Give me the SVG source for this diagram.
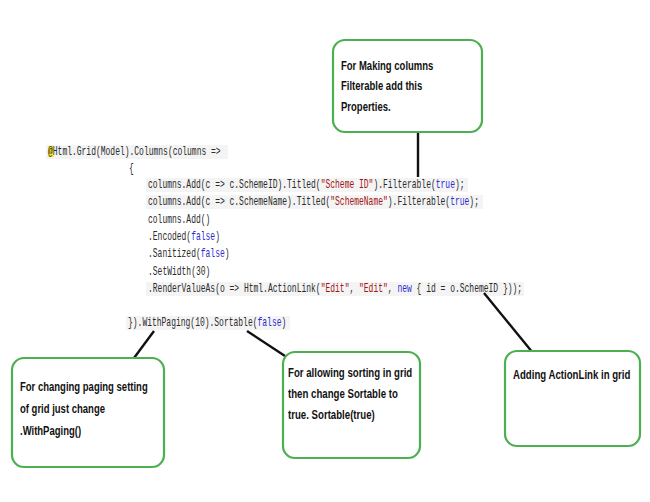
<svg xmlns="http://www.w3.org/2000/svg" width="650" height="502" viewBox="0 0 650 502">
<style>
.code{font-family:"Liberation Mono","DejaVu Sans Mono",monospace;font-size:12px;fill:#2b2b2b}
.s{fill:#a31515}
.k{fill:#2b2bd0}
.bg{fill:#f4f4f4}
.box{fill:#ffffff;stroke:#4cb050;stroke-width:2.2}
.lbl{font-family:"Liberation Sans","Arial",sans-serif;font-size:13.5px;font-weight:bold;fill:#111}
.con{stroke:#111;stroke-width:2.4;fill:none}
</style>
<rect width="650" height="502" fill="#ffffff"/>
<g id="code">
<rect class="bg" x="46" y="145" width="182" height="14"/>
<rect class="bg" x="146" y="178" width="322" height="14"/>
<rect class="bg" x="146" y="195" width="337" height="14"/>
<rect class="bg" x="146" y="282" width="378" height="14"/>
<rect class="bg" x="126" y="316" width="164" height="14"/>
<rect x="48" y="146" width="5.5" height="11" fill="#f5e625"/>
<g transform="scale(0.66667 1)">
<text class="code" x="72" y="155">@Html.Grid(Model).Columns(columns =&gt;</text>
<text class="code" x="193.5" y="172">{</text>
<text class="code" x="222" y="188">columns.Add(c =&gt; c.SchemeID).Titled(<tspan class="s">"Scheme ID"</tspan>).Filterable(<tspan class="k">true</tspan>);</text>
<text class="code" x="222" y="205">columns.Add(c =&gt; c.SchemeName).Titled(<tspan class="s">"SchemeName"</tspan>).Filterable(<tspan class="k">true</tspan>);</text>
<text class="code" x="222" y="223">columns.Add()</text>
<text class="code" x="222" y="240">.Encoded(<tspan class="k">false</tspan>)</text>
<text class="code" x="222" y="257">.Sanitized(<tspan class="k">false</tspan>)</text>
<text class="code" x="222" y="275">.SetWidth(30)</text>
<text class="code" x="222" y="292">.RenderValueAs(o =&gt; Html.ActionLink(<tspan class="s">"Edit"</tspan>, <tspan class="s">"Edit"</tspan>, <tspan class="k">new</tspan> { id = o.SchemeID }));</text>
<text class="code" x="192" y="326">}).WithPaging(10).Sortable(<tspan class="k">false</tspan>)</text>
</g>
</g>
<g id="connectors">
<line class="con" x1="418" y1="132" x2="418" y2="177"/>
<line class="con" x1="154" y1="331" x2="134" y2="358"/>
<line class="con" x1="247" y1="331" x2="285" y2="356"/>
<line class="con" x1="484" y1="293" x2="533" y2="353"/>
</g>
<g id="node-filterable">
<rect class="box" x="333" y="40" width="149" height="92" rx="12"/>
<text class="lbl" transform="translate(341 70) scale(0.705 1)">For Making columns</text>
<text class="lbl" transform="translate(341 90) scale(0.705 1)">Filterable add this</text>
<text class="lbl" transform="translate(341 111) scale(0.705 1)">Properties.</text>
</g>
<g id="node-paging">
<rect class="box" x="12" y="358" width="152" height="109" rx="12"/>
<text class="lbl" transform="translate(20 391) scale(0.705 1)">For changing paging setting</text>
<text class="lbl" transform="translate(20 413) scale(0.705 1)">of grid just change</text>
<text class="lbl" transform="translate(20 435) scale(0.705 1)">.WithPaging()</text>
</g>
<g id="node-sorting">
<rect class="box" x="283" y="352" width="137" height="106" rx="12"/>
<text class="lbl" transform="translate(288 377) scale(0.715 1)">For allowing sorting in grid</text>
<text class="lbl" transform="translate(288 398) scale(0.715 1)">then change Sortable to</text>
<text class="lbl" transform="translate(288 419) scale(0.715 1)">true. Sortable(true)</text>
</g>
<g id="node-actionlink">
<rect class="box" x="505" y="351" width="135" height="95" rx="12"/>
<text class="lbl" transform="translate(513 379) scale(0.715 1)">Adding ActionLink in grid</text>
</g>
</svg>
